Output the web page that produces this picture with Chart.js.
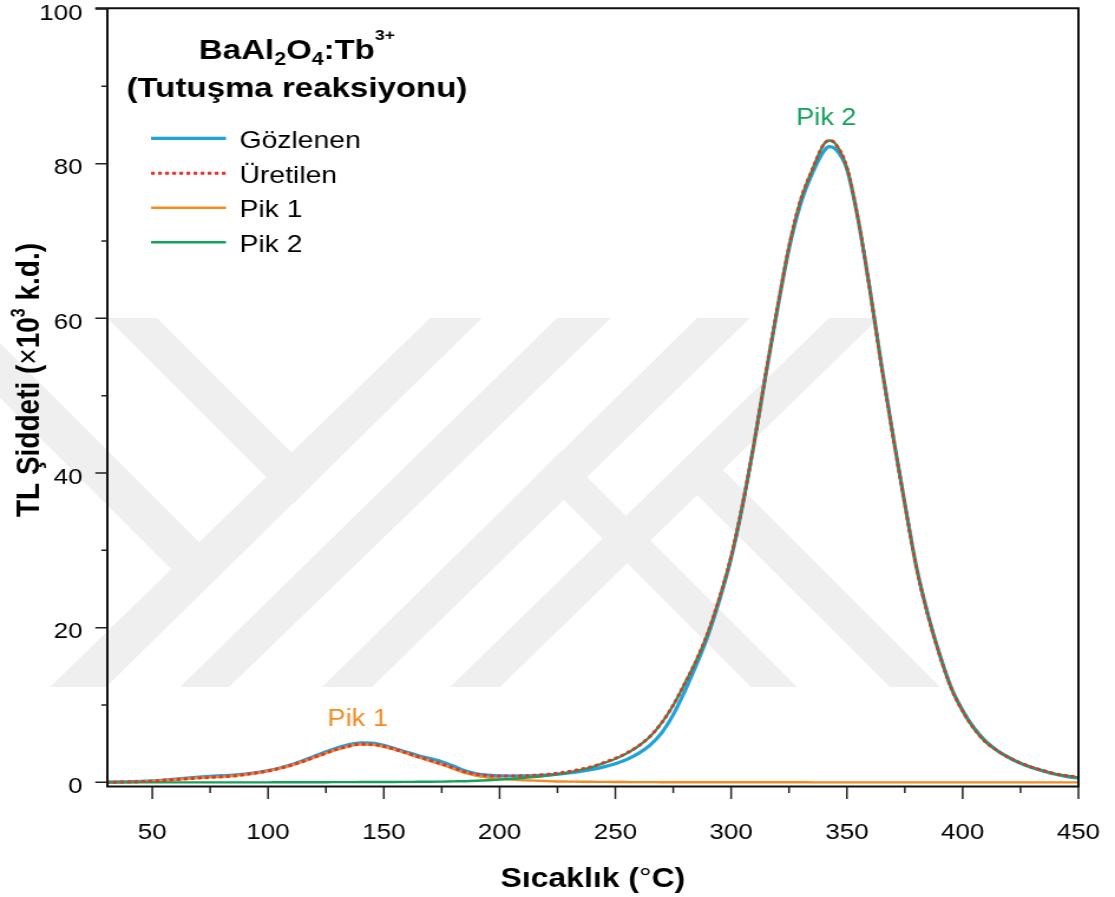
<!DOCTYPE html>
<html>
<head>
<meta charset="utf-8">
<script src="https://cdn.jsdelivr.net/npm/chart.js@4/dist/chart.umd.min.js"></script>
<style>
  html, body { margin: 0; padding: 0; background: #ffffff; }
  #glow { display: block; }
</style>
</head>
<body>
<!-- the drawing surface is laid out narrower and widened on screen -->
<canvas id="glow" width="945" height="897" style="width:1115px;height:897px"></canvas>
<script>
// Temperature grid (°C)
const temperatures = [
  30, 35, 40, 45, 50, 55, 60, 65, 70, 75, 80, 85, 90, 95, 100, 105, 110, 115, 120, 125,
  130, 135, 140, 145, 150, 155, 160, 165, 170, 175, 180, 185, 190, 195, 200, 205, 210, 215, 220, 225,
  230, 235, 240, 245, 250, 255, 260, 265, 270, 275, 280, 285, 290, 295, 300, 305, 310, 315, 320, 325,
  330, 335, 340, 342.5, 345, 350, 355, 360, 365, 370, 375, 380, 385, 390, 395, 400, 405, 410, 415, 420, 425,
  430, 435, 440, 445, 450
];

// Measured glow curve (×10^3 counts)
const observed = [
  0.02, 0.05, 0.08, 0.12, 0.19, 0.30, 0.42, 0.56, 0.68, 0.78, 0.86, 0.94, 1.08, 1.27, 1.52, 1.86, 2.28, 2.80, 3.38, 3.95,
  4.48, 4.90, 5.12, 5.08, 4.80, 4.35, 3.88, 3.45, 3.08, 2.68, 2.12, 1.50, 1.12, 0.93, 0.84, 0.82, 0.84, 0.88, 0.95, 1.06,
  1.22, 1.42, 1.68, 2.00, 2.42, 2.98, 3.75, 4.82, 6.40, 8.75, 11.8, 15.2, 19.0, 23.6, 29.0, 35.9, 44.0, 52.8, 61.2, 69.0,
  74.8, 78.7, 81.6, 82.2, 81.9, 79.3, 72.5, 63.6, 53.8, 44.7, 36.1, 27.9, 21.7, 16.6, 12.3, 9.3, 7.0, 5.3, 4.1, 3.2, 2.45,
  1.9, 1.45, 1.05, 0.75, 0.55
];

// Sum of the two deconvolved components
const fitted = [
  0.00, 0.03, 0.06, 0.10, 0.16, 0.26, 0.37, 0.47, 0.56, 0.65, 0.72, 0.82, 1.00, 1.22, 1.48, 1.81, 2.21, 2.69, 3.24, 3.78,
  4.29, 4.70, 4.93, 4.90, 4.65, 4.25, 3.78, 3.29, 2.84, 2.38, 1.88, 1.37, 1.05, 0.89, 0.81, 0.81, 0.85, 0.92, 1.02, 1.17,
  1.40, 1.70, 2.05, 2.54, 3.10, 3.80, 4.73, 5.95, 7.70, 10.0, 12.81, 15.81, 19.41, 23.91, 29.21, 36.01, 44.01, 52.91, 61.41, 69.31,
  75.31, 79.2, 82.5, 83.0, 82.6, 79.5, 72.6, 63.5, 53.7, 44.6, 36.0, 27.8, 21.6, 16.5, 12.2, 9.2, 6.9, 5.2, 4.1, 3.2, 2.5,
  1.95, 1.5, 1.1, 0.85, 0.65
];

// Component 1
const peak1 = [
  0.00, 0.03, 0.06, 0.10, 0.16, 0.26, 0.37, 0.47, 0.56, 0.65, 0.72, 0.82, 1.00, 1.22, 1.48, 1.80, 2.20, 2.68, 3.22, 3.76,
  4.26, 4.67, 4.89, 4.86, 4.60, 4.20, 3.72, 3.22, 2.76, 2.28, 1.75, 1.22, 0.85, 0.62, 0.46, 0.36, 0.28, 0.22, 0.16, 0.12,
  0.10, 0.08, 0.07, 0.06, 0.05, 0.04, 0.03, 0.03, 0.02, 0.02, 0.01, 0.01, 0.01, 0.01, 0.01, 0.01, 0.01, 0.01, 0.01, 0.01,
  0.01, 0.00, 0.00, 0.00, 0.00, 0.00, 0.00, 0.00, 0.00, 0.00, 0.00, 0.00, 0.00, 0.00, 0.00, 0.00, 0.00, 0.00, 0.00, 0.00, 0.00,
  0.00, 0.00, 0.00, 0.00, 0.00
];

// Component 2
const peak2 = [
  0.00, 0.00, 0.00, 0.00, 0.00, 0.00, 0.00, 0.00, 0.00, 0.00, 0.00, 0.00, 0.00, 0.00, 0.00, 0.01, 0.01, 0.01, 0.02, 0.02,
  0.03, 0.03, 0.04, 0.04, 0.05, 0.05, 0.06, 0.07, 0.08, 0.10, 0.13, 0.15, 0.20, 0.27, 0.35, 0.45, 0.57, 0.70, 0.86, 1.05,
  1.30, 1.62, 1.98, 2.48, 3.05, 3.76, 4.70, 5.92, 7.68, 9.98, 12.8, 15.8, 19.4, 23.9, 29.2, 36.0, 44.0, 52.9, 61.4, 69.3,
  75.3, 79.2, 82.5, 83.0, 82.6, 79.5, 72.6, 63.5, 53.7, 44.6, 36.0, 27.8, 21.6, 16.5, 12.2, 9.2, 6.9, 5.2, 4.1, 3.2, 2.5,
  1.95, 1.5, 1.1, 0.85, 0.65
];

const seriesNames = ['Gözlenen', 'Üretilen', 'Pik 1', 'Pik 2'];
const xTickValues = [50, 100, 150, 200, 250, 300, 350, 400, 450];
const xMinorValues = [75, 125, 175, 225, 275, 325, 375, 425];
const yTickValues = [0, 20, 40, 60, 80, 100];
const yMinorValues = [10, 30, 50, 70, 90];

const BLUE = '#1ea3dc';
const RED = '#ea3327';
const ORANGE = '#f58a1f';
const GREEN = '#12a25a';
const INK = '#111111';
const SANS = "'Liberation Sans', Arial, sans-serif";
const WIDEN = 1115 / 945;   // on-screen horizontal widening of the canvas

// Faint diagonal emblem behind the plot (screen pixel corners).
const backdropBands = [
  [[430, 318], [482, 318], [106, 687], [50, 687]],
  [[557, 318], [611, 318], [229, 687], [180, 687]],
  [[697, 318], [750, 318], [372, 687], [322, 687]],
  [[829, 318], [879, 318], [500, 687], [450, 687]],
  [[107, 318], [157, 318], [318, 479], [293, 504]],
  [[-80, 318], [-25, 318], [226, 569], [198, 596]],
  [[538, 474], [561, 451], [797, 687], [751, 687]],
  [[673, 471], [699, 446], [940, 687], [890, 687]]
];

const toPoints = vals => temperatures.map((t, i) => ({ x: t, y: vals[i] }));

// Draws a row of text pieces with their own fonts and vertical shifts.
function drawRuns(ctx, runs, x, y, align) {
  let total = 0;
  runs.forEach(r => { ctx.font = r.font; r.w = ctx.measureText(r.t).width; total += r.w; });
  let cx = align === 'center' ? x - total / 2 : x;
  ctx.textAlign = 'left';
  ctx.textBaseline = 'alphabetic';
  runs.forEach(r => { ctx.font = r.font; ctx.fillText(r.t, cx, y + (r.dy || 0)); cx += r.w; });
}

const decor = {
  id: 'decor',
  beforeDraw(chart) {
    const { ctx } = chart;
    ctx.save();
    ctx.fillStyle = '#efefef';
    backdropBands.forEach(poly => {
      ctx.beginPath();
      poly.forEach(([px, py], i) => {
        const cx = px / WIDEN;
        if (i === 0) ctx.moveTo(cx, py); else ctx.lineTo(cx, py);
      });
      ctx.closePath();
      ctx.fill();
    });
    ctx.restore();
  },
  afterDraw(chart, args, opts) {
    const { ctx, chartArea: a, scales: { x, y } } = chart;
    ctx.save();

    // frame
    ctx.strokeStyle = INK;
    ctx.lineWidth = 2;
    ctx.beginPath();
    ctx.moveTo(a.left - 10.2, a.top - 0.7);
    ctx.lineTo(a.right, a.top - 0.7);
    ctx.moveTo(a.right, a.top - 1.7);
    ctx.lineTo(a.right, a.bottom);
    ctx.moveTo(a.left, a.top - 1.7);
    ctx.lineTo(a.left, a.bottom + 0.5);
    ctx.moveTo(a.left - 1, a.bottom - 0.5);
    ctx.lineTo(a.right + 1, a.bottom - 0.5);
    ctx.stroke();

    // tick marks
    ctx.lineWidth = 1.5;
    ctx.strokeStyle = '#222222';
    ctx.beginPath();
    xTickValues.forEach(v => { const p = x.getPixelForValue(v); ctx.moveTo(p, a.bottom); ctx.lineTo(p, a.bottom + 12); });
    xMinorValues.forEach(v => { const p = x.getPixelForValue(v); ctx.moveTo(p, a.bottom); ctx.lineTo(p, a.bottom + 6); });
    yTickValues.forEach(v => { const p = y.getPixelForValue(v); ctx.moveTo(a.left - 10.2, p); ctx.lineTo(a.left, p); });
    yMinorValues.forEach(v => { const p = y.getPixelForValue(v); ctx.moveTo(a.left - 5.1, p); ctx.lineTo(a.left, p); });
    ctx.stroke();

    ctx.fillStyle = '#000000';

    // axis titles
    const b28 = 'bold 28px ' + SANS, r28 = '28px ' + SANS, b27 = 'bold 27px ' + SANS, r27 = '27px ' + SANS;
    drawRuns(ctx, [
      { t: 'Sıcaklık (', font: b27 }, { t: '°', font: r27 }, { t: 'C)', font: b27 }
    ], (a.left + a.right) / 2, 887, 'center');

    ctx.save();
    ctx.translate(33.3, 380);
    ctx.rotate(-Math.PI / 2);
    drawRuns(ctx, [
      { t: 'TL Şiddeti (', font: b28 }, { t: '×', font: r28 }, { t: '10', font: b28 },
      { t: '3', font: 'bold 16px ' + SANS, dy: -12 }, { t: ' k.d.)', font: b28 }
    ], 0, 0, 'center');
    ctx.restore();

    // sample title
    drawRuns(ctx, [
      { t: 'BaAl', font: b28 }, { t: '2', font: 'bold 18px ' + SANS, dy: 6 },
      { t: 'O', font: b28 }, { t: '4', font: 'bold 18px ' + SANS, dy: 6 },
      { t: ':Tb', font: b28 }, { t: '3+', font: 'bold 15px ' + SANS, dy: -19 }
    ], 251.7, 59, 'center');
    drawRuns(ctx, [{ t: '(Tutuşma reaksiyonu)', font: b28 }], 251.7, 97, 'center');

    // legend
    const rows = [138.3, 173.3, 207.7, 242.3];
    chart.data.datasets.forEach((ds, i) => {
      const ly = rows[i];
      ctx.save();
      ctx.strokeStyle = ds.borderColor;
      ctx.lineWidth = ds.borderWidth;
      ctx.setLineDash(ds.borderDash || []);
      ctx.beginPath();
      ctx.moveTo(128, ly);
      ctx.lineTo(191.5, ly);
      ctx.stroke();
      ctx.restore();
      ctx.fillStyle = '#000000';
      ctx.font = '24px ' + SANS;
      ctx.textAlign = 'left';
      ctx.textBaseline = 'alphabetic';
      ctx.fillText(ds.label, 203, ly + 9.5);
    });

    // peak captions, anchored in data space
    (opts.captions || []).forEach(c => {
      ctx.fillStyle = c.color;
      ctx.font = '23px ' + SANS;
      ctx.textAlign = 'center';
      ctx.textBaseline = 'alphabetic';
      ctx.fillText(c.text, x.getPixelForValue(c.x), y.getPixelForValue(c.y));
    });

    ctx.restore();
  }
};

const lineDefaults = { pointRadius: 0, fill: false, cubicInterpolationMode: 'monotone', borderCapStyle: 'butt' };

new Chart(document.getElementById('glow'), {
  type: 'line',
  data: {
    datasets: [
      { ...lineDefaults, label: seriesNames[0], data: toPoints(observed), borderColor: BLUE, borderWidth: 3.2, order: 3 },
      { ...lineDefaults, label: seriesNames[1], data: toPoints(fitted), borderColor: RED, borderWidth: 3, borderDash: [3.2, 2.8], order: 0 },
      { ...lineDefaults, label: seriesNames[2], data: toPoints(peak1), borderColor: ORANGE, borderWidth: 2.4, order: 2 },
      { ...lineDefaults, label: seriesNames[3], data: toPoints(peak2), borderColor: GREEN, borderWidth: 2.4, order: 1 }
    ]
  },
  options: {
    responsive: false,
    devicePixelRatio: 1,
    animation: false,
    events: [],
    layout: { padding: { left: 0, top: 9, right: 31, bottom: 0 } },
    plugins: {
      legend: { display: false },
      tooltip: { enabled: false },
      decor: {
        captions: [
          { text: 'Pik 1', x: 138.7, y: 7.3, color: ORANGE },
          { text: 'Pik 2', x: 341.1, y: 85.0, color: GREEN }
        ]
      }
    },
    scales: {
      x: {
        type: 'linear',
        min: 30.6,
        max: 450,
        grid: { display: false, drawTicks: false },
        border: { display: false },
        afterBuildTicks: s => { s.ticks = xTickValues.map(v => ({ value: v })); },
        afterFit: s => { s.height = 110; s.paddingLeft = 0; s.paddingRight = 0; },
        ticks: { color: '#000', font: { family: SANS, size: 22 }, padding: 33, maxRotation: 0, autoSkip: false }
      },
      y: {
        min: -0.6,
        max: 100,
        grid: { display: false, drawTicks: false },
        border: { display: false },
        afterBuildTicks: s => { s.ticks = yTickValues.map(v => ({ value: v })); },
        afterFit: s => { s.width = 91; s.paddingTop = 0; s.paddingBottom = 0; },
        ticks: { color: '#000', font: { family: SANS, size: 22 }, padding: 21, labelOffset: 4.5 }
      }
    }
  },
  plugins: [decor]
});
</script>
</body>
</html>
